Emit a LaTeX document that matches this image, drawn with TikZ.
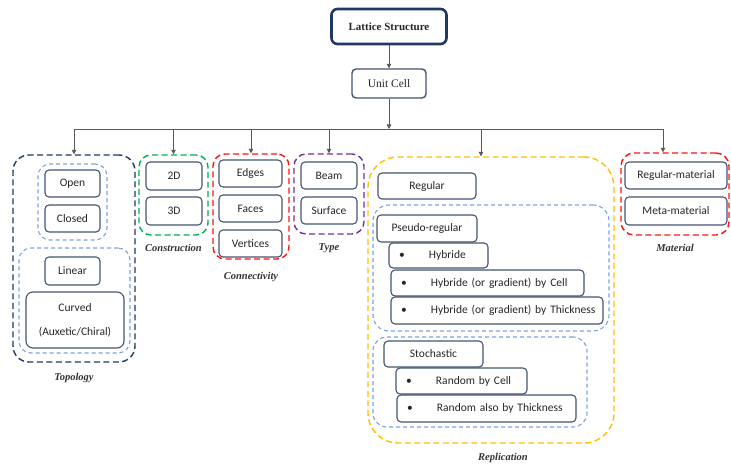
\documentclass[tikz,border=0pt]{standalone}
\usepackage{fontspec}
\setmainfont{Carlito}
\newfontfamily\headfont{Liberation Serif}
\usepackage{xcolor}
\usepackage{tikz}
\usetikzlibrary{arrows.meta,positioning}

\definecolor{boxline}{RGB}{68,84,112}
\definecolor{navy}{RGB}{31,56,100}
\definecolor{lightblue}{RGB}{125,160,225}
\definecolor{grpgreen}{RGB}{0,176,80}
\definecolor{grpred}{RGB}{250,20,20}
\definecolor{grppurple}{RGB}{112,48,160}
\definecolor{grpgold}{RGB}{255,192,0}
\newcommand{\lsbullet}{\makebox[40pt][l]{\hspace*{10pt}\textbullet}}

\begin{document}
\begin{tikzpicture}[
  x=1pt, y=-1pt,
  font=\fontsize{11.5}{13}\selectfont,
  box/.style={draw=boxline, rounded corners=4pt, line width=1.1pt, fill=white, align=center, inner sep=0pt, text=black!85},
  itembox/.style={box, align=left},
  grp/.style={draw=#1, dash pattern=on 6pt off 3.5pt, line width=1.4pt, rounded corners=14pt, inner sep=0pt},
  subgrp/.style={draw=lightblue, dash pattern=on 4pt off 3pt, line width=1.1pt, rounded corners=12pt, inner sep=0pt},
  grplabel/.style={font=\headfont\bfseries\itshape\fontsize{10.5}{12}\selectfont, text=black!80, inner sep=1pt},
  arr/.style={-{Triangle[length=4.5pt,width=4.5pt]}, line width=0.8pt, draw=black!65}
]
\useasboundingbox (0,0) rectangle (731,465);

% top of the tree
\node[box, draw=navy, line width=2.6pt, rounded corners=6pt, minimum width=115pt, minimum height=35pt, font=\headfont\bfseries\fontsize{11}{13}\selectfont] (lattice) at (389,26.5) {Lattice Structure};
\node[box, line width=1.4pt, minimum width=74pt, minimum height=29pt, font=\headfont\fontsize{11.5}{13}\selectfont] (unit) at (389,83.5) {Unit Cell};
\coordinate (bus) at (389,129);

% topology
\node[grp=navy, rounded corners=16pt, minimum width=122pt, minimum height=207pt] (topo) at (74,258.5) {};
\node[subgrp, minimum width=69pt, minimum height=76pt] (topoa) at (72.5,202) {};
\node[subgrp, minimum width=111pt, minimum height=105pt] (topob) at (74.5,300.5) {};
\node[box, minimum width=55pt, minimum height=27pt] (open) at (72.5,183.5) {Open};
\node[box, minimum width=55pt, minimum height=27pt] (closed) at (72.5,218.5) {Closed};
\node[box, minimum width=55pt, minimum height=28pt] (linear) at (72.5,271) {Linear};
\node[box, rounded corners=7pt, minimum width=98pt, minimum height=56pt] (curved) at (75,320) {Curved\\[11pt](Auxetic/Chiral)};
\node[grplabel, below=9pt of topo] {Topology};

% construction
\node[grp=grpgreen, rounded corners=12pt, minimum width=69pt, minimum height=80pt] (cons) at (173.5,195) {};
\node[box, minimum width=56pt, minimum height=28pt] (twod) at (174,176) {2D};
\node[box, minimum width=56pt, minimum height=28pt] (threed) at (174,211) {3D};
\node[grplabel, below=7pt of cons] {Construction};

% connectivity
\node[grp=grpred, rounded corners=12pt, minimum width=76pt, minimum height=105pt] (conn) at (251,206.5) {};
\node[box, minimum width=63pt, minimum height=27pt] (edges) at (250.5,173.5) {Edges};
\node[box, minimum width=63pt, minimum height=27pt] (faces) at (250.5,208.5) {Faces};
\node[box, minimum width=63pt, minimum height=27pt] (vertices) at (250.5,243.5) {Vertices};
\node[grplabel, below=11pt of conn] {Connectivity};

% type
\node[grp=grppurple, rounded corners=12pt, minimum width=70pt, minimum height=80pt] (type) at (329,194) {};
\node[box, minimum width=56pt, minimum height=27pt] (beam) at (329,175.5) {Beam};
\node[box, minimum width=56pt, minimum height=27pt] (surface) at (329,210.5) {Surface};
\node[grplabel, below=8pt of type] {Type};

% replication
\node[grp=grpgold, rounded corners=30pt, minimum width=246pt, minimum height=286pt] (rep) at (491,300) {};
\node[box, minimum width=98pt, minimum height=26pt] (regular) at (427,186) {Regular};
\node[subgrp, rounded corners=16pt, minimum width=236pt, minimum height=126pt] (pseudo) at (491,268) {};
\node[box, minimum width=100pt, minimum height=27pt] (pseudobox) at (427,228.5) {Pseudo-regular};
\node[itembox, text width=99pt, minimum height=25pt] (hyba) at (438.5,255.5) {\lsbullet Hybride};
\node[itembox, text width=193pt, minimum height=26pt] (hybb) at (487.5,283) {\lsbullet Hybride (or gradient) by Cell};
\node[itembox, text width=212pt, minimum height=27pt] (hybc) at (497,310.5) {\lsbullet Hybride (or gradient) by Thickness};
\node[subgrp, rounded corners=14pt, minimum width=214pt, minimum height=90pt] (stoch) at (480,382) {};
\node[box, minimum width=99pt, minimum height=26pt] (stochbox) at (433.5,354) {Stochastic};
\node[itembox, text width=131pt, minimum height=26pt] (rnda) at (461.5,381) {\lsbullet Random by Cell};
\node[itembox, text width=179pt, minimum height=27pt] (rndb) at (486.5,408.5) {\lsbullet Random also by Thickness};
\node[grplabel, below=8pt of rep, xshift=12pt] {Replication};

% material
\node[grp=grpred, rounded corners=13pt, minimum width=108pt, minimum height=82pt] (mat) at (675,194) {};
\node[box, minimum width=102pt, minimum height=27pt] (regmat) at (676,175.5) {Regular-material};
\node[box, minimum width=102pt, minimum height=28pt] (metamat) at (676,211) {Meta-material};
\node[grplabel, below=7pt of mat] {Material};

% connectors
\coordinate (repin) at ([xshift=-10pt]rep.north);
\coordinate (matin) at ([xshift=-12pt]mat.north);
\draw[arr] (lattice) -- (unit);
\draw[arr] (unit) -- (bus);
\draw[line width=0.8pt, draw=black!65] (topo.north |- bus) -- (matin |- bus);
\foreach \g in {topo,cons,conn,type}
  \draw[arr] (\g.north |- bus) -- (\g.north);
\draw[arr] (repin |- bus) -- (repin);
\draw[arr] (matin |- bus) -- (matin);
\end{tikzpicture}
\end{document}
